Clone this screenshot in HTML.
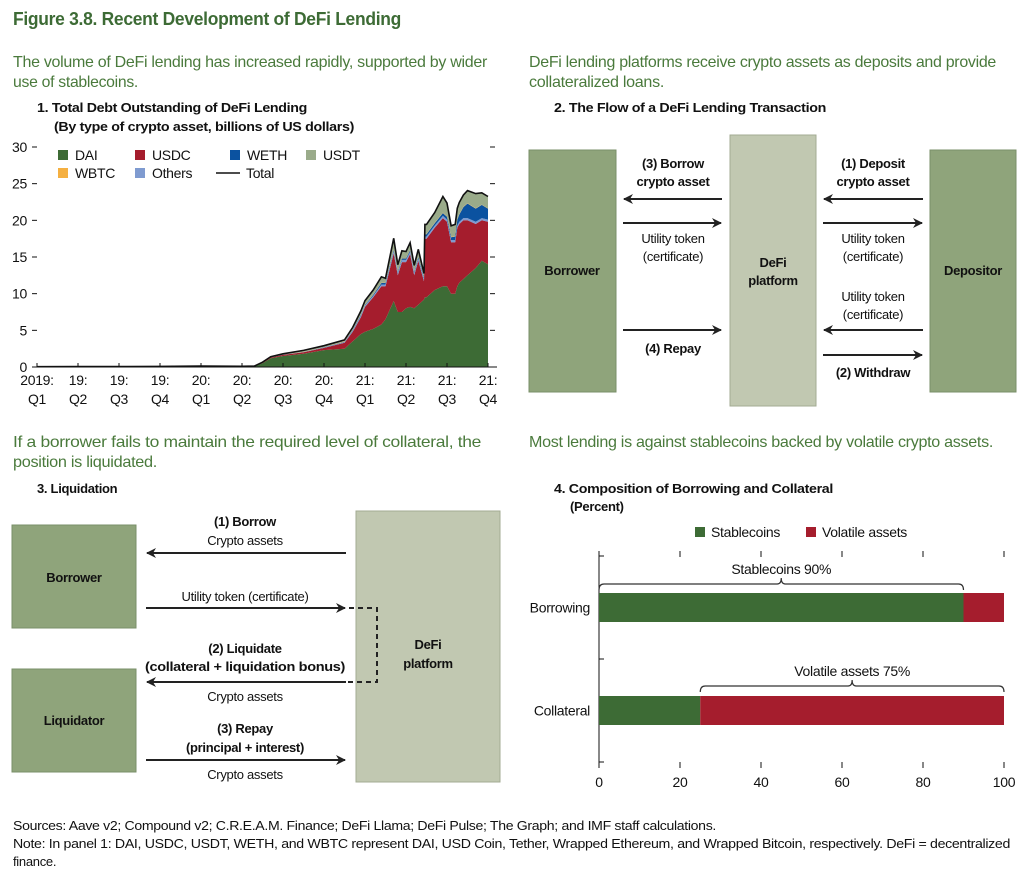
<!DOCTYPE html>
<html><head><meta charset="utf-8"><style>
body{margin:0;background:#fff}
svg text{font-family:"Liberation Sans Narrow","Liberation Sans",sans-serif;letter-spacing:-0.3px}
.b{font-weight:bold}
</style></head><body>
<svg id="fig" width="1026" height="873" viewBox="0 0 1026 873" xmlns="http://www.w3.org/2000/svg">
<defs>
<marker id="ah" viewBox="0 0 10 10" refX="9" refY="5" markerWidth="5" markerHeight="5" orient="auto-start-reverse"><path d="M0,0 L10,5 L0,10 L3,5 z" fill="#222"/></marker>
</defs>
<text x="13" y="25" font-size="18" class="b" fill="#3d6b35" textLength="388" lengthAdjust="spacingAndGlyphs">Figure 3.8. Recent Development of DeFi Lending</text>
<g fill="#4a7a3c" font-size="16">
<text x="13" y="67" textLength="474" lengthAdjust="spacingAndGlyphs">The volume of DeFi lending has increased rapidly, supported by wider</text>
<text x="13" y="87" textLength="125" lengthAdjust="spacingAndGlyphs">use of stablecoins.</text>
<text x="529" y="67" textLength="467" lengthAdjust="spacingAndGlyphs">DeFi lending platforms receive crypto assets as deposits and provide</text>
<text x="529" y="87" textLength="135" lengthAdjust="spacingAndGlyphs">collateralized loans.</text>
<text x="13" y="447" textLength="468" lengthAdjust="spacingAndGlyphs">If a borrower fails to maintain the required level of collateral, the</text>
<text x="13" y="467" textLength="144" lengthAdjust="spacingAndGlyphs">position is liquidated.</text>
<text x="529" y="447" textLength="464" lengthAdjust="spacingAndGlyphs">Most lending is against stablecoins backed by volatile crypto assets.</text>
</g>
<g font-size="13" class="b" fill="#111">
<text x="37" y="112" textLength="270" lengthAdjust="spacingAndGlyphs">1. Total Debt Outstanding of DeFi Lending</text>
<text x="54" y="131" textLength="300" lengthAdjust="spacingAndGlyphs">(By type of crypto asset, billions of US dollars)</text>
<text x="554" y="112" textLength="272" lengthAdjust="spacingAndGlyphs">2. The Flow of a DeFi Lending Transaction</text>
<text x="37" y="493">3. Liquidation</text>
<text x="554" y="493" textLength="279" lengthAdjust="spacingAndGlyphs">4. Composition of Borrowing and Collateral</text>
<text x="570" y="511">(Percent)</text>
</g>
<g id="p1"></g>

<!-- Panel 2 -->
<g font-size="13" fill="#111">
<rect x="529" y="150" width="87" height="242" fill="#8fa47b" stroke="#7a8f68"/>
<rect x="730" y="135" width="86" height="271" fill="#c1c8b1" stroke="#a3ab93"/>
<rect x="930" y="150" width="86" height="242" fill="#8fa47b" stroke="#7a8f68"/>
<g stroke="#222" stroke-width="2">
<line x1="722" y1="199" x2="624" y2="199" marker-end="url(#ah)"/>
<line x1="623" y1="223" x2="721" y2="223" marker-end="url(#ah)"/>
<line x1="623" y1="330" x2="721" y2="330" marker-end="url(#ah)"/>
<line x1="923" y1="199" x2="824" y2="199" marker-end="url(#ah)"/>
<line x1="823" y1="223" x2="922" y2="223" marker-end="url(#ah)"/>
<line x1="923" y1="330" x2="824" y2="330" marker-end="url(#ah)"/>
<line x1="823" y1="355" x2="922" y2="355" marker-end="url(#ah)"/>
</g>
<g text-anchor="middle">
<text class="b" x="673" y="168">(3) Borrow</text><text class="b" x="673" y="186">crypto asset</text>
<text x="673" y="243">Utility token</text><text x="673" y="261">(certificate)</text>
<text class="b" x="572" y="275">Borrower</text>
<text class="b" x="773" y="267">DeFi</text><text class="b" x="773" y="285">platform</text>
<text class="b" x="973" y="275">Depositor</text>
<text class="b" x="873" y="168">(1) Deposit</text><text class="b" x="873" y="186">crypto asset</text>
<text x="873" y="243">Utility token</text><text x="873" y="261">(certificate)</text>
<text x="873" y="301">Utility token</text><text x="873" y="319">(certificate)</text>
<text class="b" x="673" y="353">(4) Repay</text>
<text class="b" x="873" y="377">(2) Withdraw</text>
</g>
</g>

<!-- Panel 3 -->
<g font-size="13" fill="#111">
<rect x="12" y="525" width="124" height="103" fill="#8fa47b" stroke="#7a8f68"/>
<rect x="12" y="669" width="124" height="103" fill="#8fa47b" stroke="#7a8f68"/>
<rect x="356" y="511" width="144" height="271" fill="#c1c8b1" stroke="#a3ab93"/>
<g stroke="#222" stroke-width="2">
<line x1="346" y1="553" x2="147" y2="553" marker-end="url(#ah)"/>
<line x1="146" y1="608" x2="345" y2="608" marker-end="url(#ah)"/>
<line x1="346" y1="682" x2="147" y2="682" marker-end="url(#ah)"/>
<line x1="146" y1="760" x2="345" y2="760" marker-end="url(#ah)"/>
<polyline points="340,608 377,608 377,682 336,682" fill="none" stroke-dasharray="5,4"/>
</g>
<g text-anchor="middle">
<text class="b" x="245" y="526">(1) Borrow</text><text x="245" y="545">Crypto assets</text>
<text x="245" y="601">Utility token (certificate)</text>
<text class="b" x="74" y="582">Borrower</text>
<text class="b" x="74" y="725">Liquidator</text>
<text class="b" x="428" y="649">DeFi</text><text class="b" x="428" y="668">platform</text>
<text class="b" x="245" y="653">(2) Liquidate</text><text class="b" x="245" y="671" textLength="200" lengthAdjust="spacingAndGlyphs">(collateral + liquidation bonus)</text>
<text x="245" y="701">Crypto assets</text>
<text class="b" x="245" y="733">(3) Repay</text><text class="b" x="245" y="752">(principal + interest)</text>
<text x="245" y="779">Crypto assets</text>
</g>
</g>

<g id="p4"></g>

<g font-size="13" fill="#111">
<text x="13" y="830" textLength="703" lengthAdjust="spacingAndGlyphs">Sources: Aave v2; Compound v2; C.R.E.A.M. Finance; DeFi Llama; DeFi Pulse; The Graph; and IMF staff calculations.</text>
<text x="13" y="848" textLength="997" lengthAdjust="spacingAndGlyphs">Note: In panel 1: DAI, USDC, USDT, WETH, and WBTC represent DAI, USD Coin, Tether, Wrapped Ethereum, and Wrapped Bitcoin, respectively. DeFi = decentralized</text>
<text x="13" y="866">finance.</text>
</g>
</svg>
<script>
// Panel 1 data (x in quarters since 2019:Q1)
const qx   = [0,1,2,3,4,5,5.3,5.5,5.7,6.0,6.5,7.0,7.5,7.7,7.9,8.0,8.2,8.4,8.5,8.7,8.8,8.9,9.0,9.1,9.2,9.3,9.44,9.46,9.5,9.7,9.9,10.0,10.1,10.2,10.25,10.3,10.4,10.5,10.7,10.85,11.0];
const dai  = [0.02,0.03,0.03,0.05,0.08,0.05,0.08,0.5,1.2,1.5,1.8,2.3,2.5,3.5,4.5,4.8,5.2,5.8,6.5,9.0,7.5,7.5,8.0,8.2,8.0,8.5,9.2,9.5,9.5,10.5,11.0,11.0,10.0,10.0,11.0,11.5,12.0,12.5,13.5,14.5,14.0];
const usdc = [0.01,0.02,0.02,0.02,0.03,0.02,0.02,0.1,0.1,0.15,0.2,0.3,0.8,1.3,2.3,3.4,4.3,5.2,4.5,6.5,5.0,6.8,6.3,7.2,4.5,6.0,2.5,8.0,8.0,8.5,9.3,8.8,7.0,7.0,8.0,8.0,8.0,7.5,6.0,5.5,5.8];
const others=[0,0,0,0,0,0,0,0,0,0.02,0.03,0.05,0.1,0.15,0.2,0.2,0.2,0.25,0.25,0.3,0.3,0.3,0.3,0.3,0.3,0.3,0.3,0.3,0.3,0.3,0.3,0.3,0.3,0.3,0.3,0.3,0.3,0.3,0.3,0.3,0.3];
const weth = [0,0,0,0,0,0,0,0,0,0.02,0.02,0.03,0.05,0.1,0.1,0.1,0.15,0.2,0.2,0.2,0.2,0.2,0.2,0.2,0.2,0.2,0.2,0.3,0.3,0.3,0.4,0.4,0.4,0.5,0.8,1.0,1.5,2.0,1.8,1.8,1.5];
const wbtc = [0,0,0,0,0,0,0,0,0,0.01,0.02,0.03,0.05,0.05,0.05,0.05,0.05,0.05,0.05,0.05,0.05,0.05,0.05,0.05,0.05,0.05,0.05,0.05,0.05,0.05,0.05,0.05,0.05,0.05,0.05,0.05,0.05,0.05,0.05,0.05,0.05];
const usdt = [0.01,0.01,0.01,0.01,0.02,0.02,0.02,0.05,0.1,0.1,0.2,0.2,0.2,0.3,0.5,0.5,0.6,0.8,0.6,1.5,0.9,1.0,0.9,1.0,0.8,1.0,0.5,1.3,1.3,1.4,2.2,1.8,1.5,1.6,1.5,1.6,1.6,1.7,2.0,1.6,1.6];
const seriesNames = ["DAI","USDC","Others","WETH","WBTC","USDT"];
const seriesColors = ["#3d6b35","#a51d2d","#7f9bd0","#0b52a0","#f5b041","#9aab8a"];
const yTicks = [0,5,10,15,20,25,30];
const xTickTop = ["2019:","19:","19:","19:","20:","20:","20:","20:","21:","21:","21:","21:"];
const xTickBot = ["Q1","Q2","Q3","Q4","Q1","Q2","Q3","Q4","Q1","Q2","Q3","Q4"];
// Panel 4 data
const p4Cats = ["Borrowing","Collateral"];
const p4Stable = [90,25];
const p4Volatile = [10,75];
const p4Ticks = [0,20,40,60,80,100];

const NS="http://www.w3.org/2000/svg";
function mk(tag,attrs,parent,txt){const e=document.createElementNS(NS,tag);for(const k in attrs)e.setAttribute(k,attrs[k]);if(txt!==undefined)e.textContent=txt;parent.appendChild(e);return e;}

// Panel 1
const p1=document.getElementById('p1');
const X=q=>37+q*(451/11);
const Y=v=>367-v*(220/30);
const stack=[dai,usdc,others,weth,wbtc,usdt];
let base=qx.map(()=>0);
stack.forEach((s,si)=>{
  const top=base.map((b,i)=>b+s[i]);
  let d="M"+qx.map((q,i)=>X(q).toFixed(1)+","+Y(top[i]).toFixed(1)).join(" L");
  for(let i=qx.length-1;i>=0;i--) d+=" L"+X(qx[i]).toFixed(1)+","+Y(base[i]).toFixed(1);
  d+=" Z";
  const p=mk('path',{d:d,fill:seriesColors[si]},p1);
  
  
  base=top;
});
const tl=mk('path',{d:"M"+qx.map((q,i)=>X(q).toFixed(1)+","+Y(base[i]).toFixed(1)).join(" L"),fill:"none",stroke:"#111","stroke-width":1.6},p1);


const xa=mk('line',{x1:37,y1:367,x2:497,y2:367,stroke:"#111","stroke-width":1},p1);


yTicks.forEach(v=>{
  mk('line',{x1:32,y1:Y(v),x2:37,y2:Y(v),stroke:"#111"},p1);
  mk('line',{x1:490,y1:Y(v),x2:495,y2:Y(v),stroke:"#111"},p1);
  const t=mk('text',{x:27,y:Y(v)+5,"font-size":14,"text-anchor":"end",fill:"#111"},p1,String(v));
  
  
});
xTickTop.forEach((s,i)=>{
  mk('line',{x1:X(i),y1:363,x2:X(i),y2:367,stroke:"#111"},p1);
  const t=mk('text',{x:X(i),y:385,"font-size":14,"text-anchor":"middle",fill:"#111"},p1,s);
  
  
  const t2=mk('text',{x:X(i),y:404,"font-size":14,"text-anchor":"middle",fill:"#111"},p1,xTickBot[i]);
  
  
});
const leg=[["DAI",58,150,0],["USDC",135,150,1],["WETH",230,150,3],["USDT",306,150,5],["WBTC",58,168,4],["Others",135,168,2]];
leg.forEach(l=>{
  const g=mk('g',{},p1);
  
  
  mk('rect',{x:l[1],y:l[2],width:10,height:10,fill:seriesColors[l[3]]},g);
  mk('text',{x:l[1]+17,y:l[2]+10,"font-size":14,fill:"#111"},g,l[0]);
});
const lt=mk('g',{},p1);


mk('line',{x1:216,y1:173,x2:240,y2:173,stroke:"#111","stroke-width":1.6},lt);
mk('text',{x:246,y:178,"font-size":14,fill:"#111"},lt,"Total");

// Panel 4
const p4=document.getElementById('p4');
const PX=v=>599+v*(405/100);
const rowY=[593,696], bh=29;
mk('line',{x1:599,y1:553,x2:599,y2:763,stroke:"#111"},p4);
[556,659,762].forEach(y=>mk('line',{x1:599,y1:y,x2:604,y2:y,stroke:"#111"},p4));
p4Ticks.forEach(v=>{
  mk('line',{x1:PX(v),y1:551,x2:PX(v),y2:557,stroke:"#111"},p4);
  mk('line',{x1:PX(v),y1:762,x2:PX(v),y2:768,stroke:"#111"},p4);
  const t=mk('text',{x:PX(v),y:787,"font-size":14,"text-anchor":"middle",fill:"#111"},p4,String(v));
  
  
});
p4Cats.forEach((c,i)=>{
  const y=rowY[i];
  const r1=mk('rect',{x:PX(0),y:y,width:PX(p4Stable[i])-PX(0),height:bh,fill:"#3d6b35"},p4);
  
  
  const r2=mk('rect',{x:PX(p4Stable[i]),y:y,width:PX(p4Stable[i]+p4Volatile[i])-PX(p4Stable[i]),height:bh,fill:"#a51d2d"},p4);
  
  
  const t=mk('text',{x:590,y:y+bh/2+5,"font-size":14,"text-anchor":"end",fill:"#111"},p4,c);
  
  
});
function brace(x1,x2,y,label){
  const m=(x1+x2)/2;
  const d=`M${x1},${y+6} Q${x1},${y} ${x1+5},${y} L${m-4},${y} Q${m},${y} ${m},${y-6} Q${m},${y} ${m+4},${y} L${x2-5},${y} Q${x2},${y} ${x2},${y+6}`;
  const p=mk('path',{d:d,fill:"none",stroke:"#333","stroke-width":1.2},p4);
  
  
  const t=mk('text',{x:m,y:y-10,"font-size":14,"text-anchor":"middle",fill:"#111"},p4,label);
  
  
}
brace(PX(0),PX(p4Stable[0]),584,"Stablecoins "+p4Stable[0]+"%");
brace(PX(p4Stable[1]),PX(100),686,"Volatile assets "+p4Volatile[1]+"%");
[["Stablecoins",695,"#3d6b35"],["Volatile assets",806,"#a51d2d"]].forEach(l=>{
  const g=mk('g',{},p4);
  
  
  mk('rect',{x:l[1],y:527,width:10,height:10,fill:l[2]},g);
  mk('text',{x:l[1]+16,y:537,"font-size":14,fill:"#111"},g,l[0]);
});
</script>
</body></html>
